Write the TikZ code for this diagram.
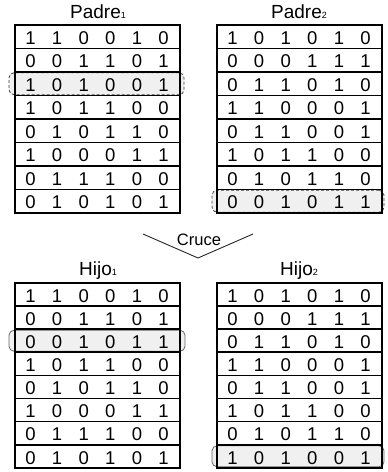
\documentclass[tikz,border=0pt]{standalone}
\usepackage{fontspec}
\setmainfont{Liberation Sans}

% small index digit for the titles
\newcommand\idx[1]{{\fontsize{9}{9}\selectfont #1}}

% #1 name prefix, #2 left x, #3 top y, #4 row pitch, #5 rows of bits
\newcommand\bittable[5]{%
  \foreach \r [count=\i] in {#5} {
    \node[rowbox, minimum height=#4pt] (#1r\i) at ({#2+82.5},{#3+(\i-0.5)*#4}) {};
    \foreach \b [count=\j] in \r {
      \node[bit] (#1-\i-\j) at ({#2+15.5+(\j-1)*26.6},{#3+(\i-1)*#4+19.3}) {\b};
    }
  }%
}

\begin{document}
\begin{tikzpicture}[x=1pt,y=-1pt,
  rowbox/.style={draw=black,line width=1.7pt,minimum width=165pt,inner sep=0pt},
  bit/.style={font=\fontsize{18.5}{18.5}\selectfont,inner sep=0pt,anchor=base},
  title/.style={font=\fontsize{19}{19}\selectfont,inner sep=0pt,anchor=base},
  hlbase/.style={fill=black!6,rounded corners=5pt,inner sep=0pt,line width=0.8pt},
  hldash/.style={hlbase,draw=black!75,dashed,dash pattern=on 3pt off 2pt},
  hlsolid/.style={hlbase,draw=black!60},
  link/.style={draw=black!85,line width=0.9pt}]
\useasboundingbox (0,0) rectangle (388,472);

% selected rows (drawn under the tables)
\node[hldash, minimum width=175pt, minimum height=22pt] (selA) at (96.5,83.75) {};
\node[hldash, minimum width=172pt, minimum height=22pt] (selB) at (298,201.25) {};
\node[hlsolid, minimum width=176pt, minimum height=21pt] (selC) at (97,340.75) {};
\node[hlsolid, minimum width=172pt, minimum height=21pt] (selD) at (298,456.25) {};

% titles
\node[title] (tp1) at (98,18) {Padre\idx{1}};
\node[title] (tp2) at (299,18) {Padre\idx{2}};
\node[title] (th1) at (98,275) {Hijo\idx{1}};
\node[title] (th2) at (299,275) {Hijo\idx{2}};

% parents
\bittable{pa}{15}{25}{23.5}{{1,1,0,0,1,0},{0,0,1,1,0,1},{1,0,1,0,0,1},{1,0,1,1,0,0},{0,1,0,1,1,0},{1,0,0,0,1,1},{0,1,1,1,0,0},{0,1,0,1,0,1}}
\bittable{pb}{217}{25}{23.5}{{1,0,1,0,1,0},{0,0,0,1,1,1},{0,1,1,0,1,0},{1,1,0,0,0,1},{0,1,1,0,0,1},{1,0,1,1,0,0},{0,1,0,1,1,0},{0,0,1,0,1,1}}

% crossover mark
\coordinate (vl) at (143,234);
\coordinate (vb) at (198,258);
\coordinate (vr) at (253,234);
\draw[link] (vl) -- (vb) -- (vr);
\node[font=\fontsize{16.5}{16.5}\selectfont,inner sep=0pt,anchor=base] (cx) at (199,245) {Cruce};

% offspring
\bittable{ha}{15}{283}{23.1}{{1,1,0,0,1,0},{0,0,1,1,0,1},{0,0,1,0,1,1},{1,0,1,1,0,0},{0,1,0,1,1,0},{1,0,0,0,1,1},{0,1,1,1,0,0},{0,1,0,1,0,1}}
\bittable{hb}{217}{283}{23.1}{{1,0,1,0,1,0},{0,0,0,1,1,1},{0,1,1,0,1,0},{1,1,0,0,0,1},{0,1,1,0,0,1},{1,0,1,1,0,0},{0,1,0,1,1,0},{1,0,1,0,0,1}}
\end{tikzpicture}
\end{document}
